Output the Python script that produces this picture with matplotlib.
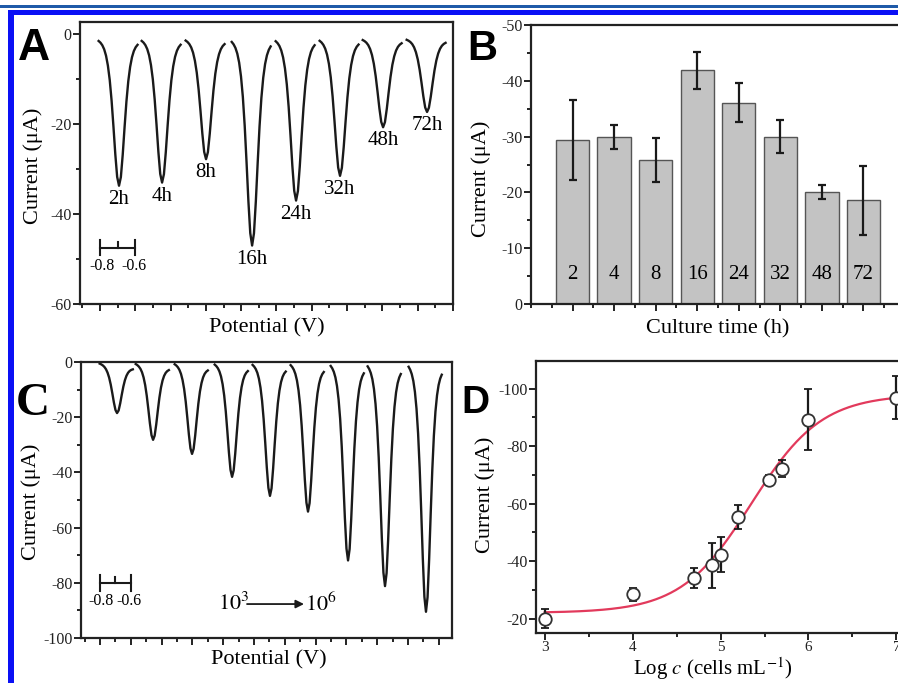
import numpy as np
import matplotlib
matplotlib.use("Agg")
import matplotlib.pyplot as plt
from matplotlib.patches import Rectangle
from matplotlib.ticker import MultipleLocator, FixedLocator

plt.rcParams['font.family'] = ['Liberation Serif', 'DejaVu Serif']
plt.rcParams['mathtext.fontset'] = 'stix'
plt.rcParams['axes.unicode_minus'] = False

# ---------------- data ----------------
# Panel A: DPV peaks vs culture time
a_labels = ['2h', '4h', '8h', '16h', '24h', '32h', '48h', '72h']
a_peak_pos = [0.108, 0.352, 0.601, 0.862, 1.111, 1.360, 1.604, 1.853]
a_peak_cur = [-33.7, -33.0, -27.8, -47.0, -37.0, -31.5, -20.7, -17.3]
a_base_left, a_base_right = -1.0, -1.5
a_width = 0.042

# Panel B: bar chart
b_times = ['2', '4', '8', '16', '24', '32', '48', '72']
b_current = [-29.4, -29.9, -25.8, -41.9, -36.1, -30.0, -20.1, -18.6]
b_err = [7.2, 2.2, 4.0, 3.3, 3.5, 3.0, 1.25, 6.2]

# Panel C: DPV peaks vs concentration (10^3 -> 10^6)
c_peak_pos = [0.111, 0.345, 0.598, 0.858, 1.104, 1.351, 1.611, 1.851, 2.117]
c_peak_cur = [-18.5, -28.2, -33.3, -41.6, -48.5, -54.2, -71.9, -81.2, -90.5]
c_base_left, c_base_right = -0.3, -2.2
c_width = 0.041

# Shared normalized DPV peak profile (offset in peak-widths, fraction of depth)
profile_z = [-2.75, -2.5, -2.25, -2.0, -1.75, -1.5, -1.25, -1.0, -0.75, -0.5, -0.25,
             0.0, 0.25, 0.5, 0.75, 1.0, 1.25, 1.5, 1.75, 2.0, 2.25, 2.5]
profile_f = [0.016, 0.027, 0.044, 0.071, 0.114, 0.181, 0.280, 0.420, 0.597, 0.786, 0.940,
             1.0, 0.940, 0.786, 0.597, 0.420, 0.280, 0.181, 0.114, 0.071, 0.044, 0.027]

# Panel D: calibration
d_logc = [3.0, 4.0, 4.7, 4.9, 5.0, 5.2, 5.55, 5.7, 6.0, 7.0]
d_current = [-20.0, -28.4, -34.2, -38.5, -42.3, -55.4, -68.3, -72.2, -89.2, -96.9]
d_err = [3.3, 2.3, 3.5, 7.8, 6.1, 4.2, 1.7, 2.8, 10.7, 7.5]
d_fit_A1, d_fit_A2, d_fit_x0, d_fit_dx = -22.0, -98.0, 5.35, 0.40

W, H = 898, 683
fig = plt.figure(figsize=(W / 100, H / 100), dpi=100)


def ax_px(left, right, top, bottom):
    return fig.add_axes([left / W, 1 - bottom / H, (right - left) / W, (bottom - top) / H])


def style(ax):
    for s in ax.spines.values():
        s.set_linewidth(1.6)
        s.set_color('#222222')
    ax.tick_params(which='both', direction='out', top=False, right=False, width=1.4,
                   colors='#222222', labelsize=11.5, pad=1)
    ax.tick_params(which='major', length=5)
    ax.tick_params(which='minor', length=3)


def draw_peaks(ax, pos, cur, width, bl, br):
    z = np.array(profile_z)
    f = np.array(profile_f)
    for p, c in zip(pos, cur):
        x = p + z * width
        base = bl + (br - bl) * (z - z[0]) / (z[-1] - z[0])
        base_c = bl + (br - bl) * (0 - z[0]) / (z[-1] - z[0])
        y = base + (c - base_c) * f
        ax.plot(x, y, color='#1a1a1a', lw=1.7, solid_joinstyle='round')


def scale_bar(ax, y, cap, lab_y):
    kw = dict(color='#1a1a1a', lw=1.5)
    ax.plot([0, 0.2], [y, y], **kw)
    ax.plot([0, 0], [y - cap, y + cap], **kw)
    ax.plot([0.2, 0.2], [y - cap, y + cap], **kw)
    ax.plot([0.1, 0.1], [y, y + cap * 0.7], **kw)
    ax.text(0.01, lab_y, '-0.8', ha='center', va='center', fontsize=11.5)
    ax.text(0.19, lab_y, '-0.6', ha='center', va='center', fontsize=11.5)


# ---------------- Panel A ----------------
axA = ax_px(80, 453, 22, 304)
draw_peaks(axA, a_peak_pos, a_peak_cur, a_width, a_base_left, a_base_right)
for p, c, lab in zip(a_peak_pos, a_peak_cur, a_labels):
    axA.text(p, c - 0.9, lab, ha='center', va='top', fontsize=15)
scale_bar(axA, -47.5, 1.7, -51.6)
axA.set_xlim(-0.113, 2.0)
axA.set_ylim(-60, 2.7)
axA.xaxis.set_major_locator(MultipleLocator(0.2))
axA.xaxis.set_minor_locator(MultipleLocator(0.1))
axA.yaxis.set_major_locator(MultipleLocator(20))
axA.yaxis.set_minor_locator(MultipleLocator(10))
style(axA)
axA.tick_params(axis='x', labelbottom=False)

# ---------------- Panel B ----------------
axB = ax_px(531, 905, 25, 304)
xb = np.arange(1, len(b_times) + 1)
axB.bar(xb, b_current, width=0.8, color='#c3c3c3', edgecolor='#555555', linewidth=1.0)
axB.errorbar(xb, b_current, yerr=b_err, fmt='none', ecolor='#1a1a1a', elinewidth=1.6,
             capsize=3, capthick=1.6)
for x, t in zip(xb, b_times):
    axB.text(x, -5.3, t, ha='center', va='center', fontsize=15)
axB.set_xlim(0, 9)
axB.set_ylim(0, -50)
axB.xaxis.set_major_locator(FixedLocator(xb))
axB.xaxis.set_minor_locator(MultipleLocator(0.5))
axB.yaxis.set_major_locator(MultipleLocator(10))
axB.yaxis.set_minor_locator(MultipleLocator(5))
style(axB)
axB.tick_params(axis='x', labelbottom=False)

# ---------------- Panel C ----------------
axC = ax_px(81, 452, 362, 638)
draw_peaks(axC, c_peak_pos, c_peak_cur, c_width, c_base_left, c_base_right)
scale_bar(axC, -80, 2.8, -86.7)
axC.text(0.767, -87.7, r'$10^3$', ha='left', va='center', fontsize=16)
axC.annotate('', xy=(1.325, -87.7), xytext=(0.955, -87.7),
             arrowprops=dict(arrowstyle='-|>', color='#1a1a1a', lw=1.3,
                             mutation_scale=12, shrinkA=0, shrinkB=0))
axC.text(1.332, -87.7, r'$10^6$', ha='left', va='center', fontsize=16)
axC.set_xlim(-0.123, 2.286)
axC.set_ylim(-100, 0)
axC.xaxis.set_major_locator(MultipleLocator(0.2))
axC.xaxis.set_minor_locator(MultipleLocator(0.1))
axC.yaxis.set_major_locator(MultipleLocator(20))
axC.yaxis.set_minor_locator(MultipleLocator(10))
style(axC)
axC.tick_params(axis='x', labelbottom=False)

# ---------------- Panel D ----------------
axD = ax_px(536, 910, 361, 633)
xf = np.linspace(3.0, 7.2, 300)
yf = (d_fit_A1 - d_fit_A2) / (1 + np.exp((xf - d_fit_x0) / d_fit_dx)) + d_fit_A2
axD.plot(xf, yf, color='#e23a5c', lw=1.6, zorder=2)
axD.errorbar(d_logc, d_current, yerr=d_err, fmt='o', ms=9, mfc='white', mec='#333333',
             mew=1.3, ecolor='#1a1a1a', elinewidth=1.6, capsize=3, capthick=1.6, zorder=3)
axD.set_xlim(2.9, 7.155)
axD.set_ylim(-15, -109.6)
axD.xaxis.set_major_locator(MultipleLocator(1))
axD.xaxis.set_minor_locator(MultipleLocator(0.5))
axD.yaxis.set_major_locator(MultipleLocator(20))
axD.yaxis.set_minor_locator(MultipleLocator(10))
style(axD)
axD.tick_params(axis='x', labelsize=11)

# ---------------- axis labels ----------------
def ftext(px, py, s, **kw):
    fig.text(px / W, 1 - py / H, s, ha='center', va='center', **kw)

ftext(33, 166, 'Current (μA)', rotation=90, fontsize=16)
ftext(481, 179, 'Current (μA)', rotation=90, fontsize=16)
ftext(31, 502, 'Current (μA)', rotation=90, fontsize=16)
ftext(485, 495, 'Current (μA)', rotation=90, fontsize=16)
ftext(267, 328, 'Potential (V)', fontsize=16)
ftext(718, 329, 'Culture time (h)', fontsize=16)
ftext(269, 660, 'Potential (V)', fontsize=16)
ftext(713, 669, r'Log $c$ (cells mL$^{-1}$)', fontsize=15)

# ---------------- panel letters ----------------
fig.text(18 / W, 1 - 60 / H, 'A', fontsize=32, fontweight='bold', family='Liberation Sans',
         va='baseline', ha='left')
fig.text(467 / W, 1 - 60 / H, 'B', fontsize=30, fontweight='bold', family='Liberation Sans',
         va='baseline', ha='left')
fig.text(16 / W, 1 - 415 / H, 'C', fontsize=34, fontweight='bold', family='Liberation Serif',
         va='baseline', ha='left')
fig.text(461 / W, 1 - 413 / H, 'D', fontsize=28, fontweight='bold', family='Liberation Sans',
         va='baseline', ha='left')

# ---------------- blue frame ----------------
fig.add_artist(Rectangle((0, 1 - 7.5 / H), 1, 2.2 / H, transform=fig.transFigure,
                         color='#1f5aa8', lw=0))
fig.add_artist(Rectangle((8 / W, 1 - 14.5 / H), 1, 4.5 / H, transform=fig.transFigure,
                         color='#0a10f5', lw=0))
fig.add_artist(Rectangle((8 / W, 0), 6 / W, 1 - 10 / H, transform=fig.transFigure,
                         color='#0a10f5', lw=0))

fig.savefig('out.png', dpi=100)
